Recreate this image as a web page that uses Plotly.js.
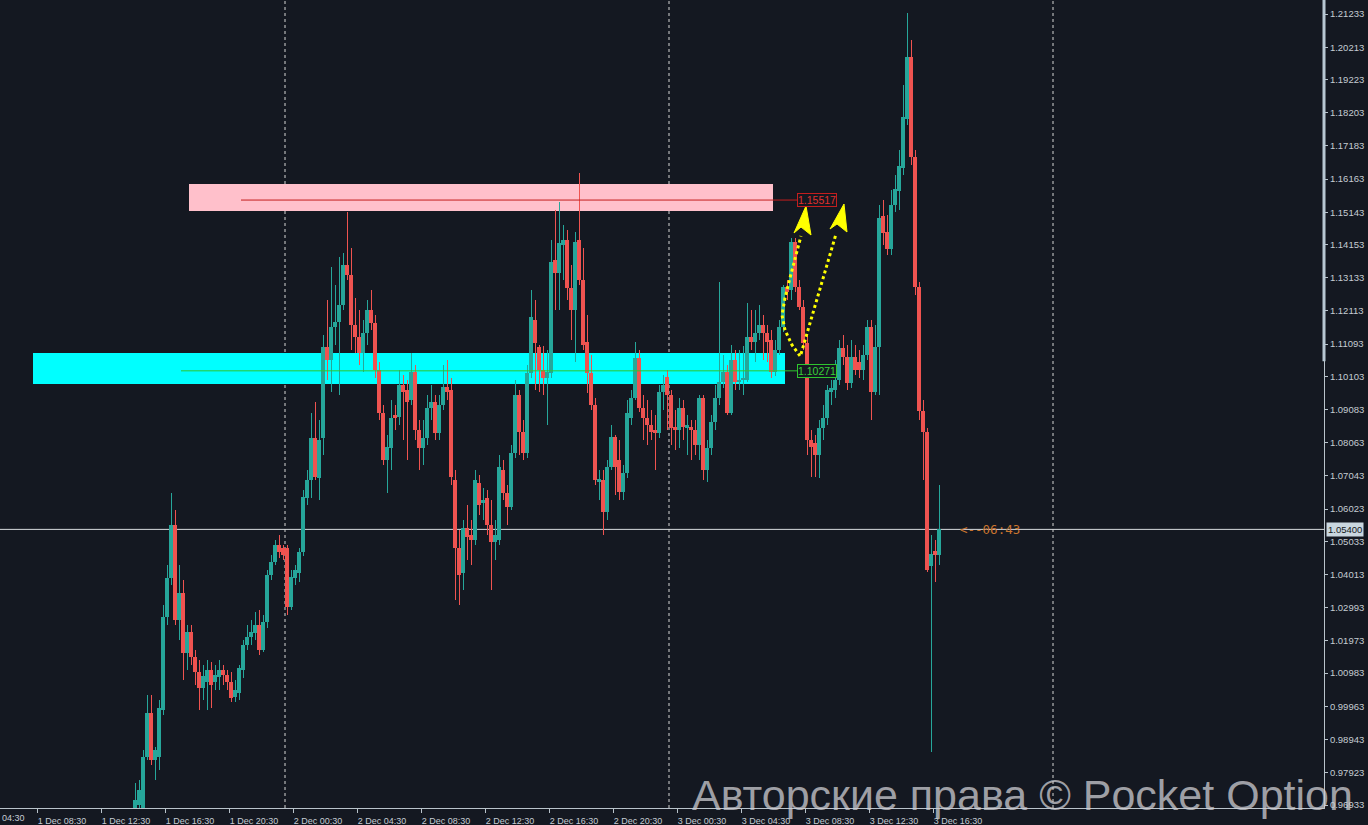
<!DOCTYPE html>
<html>
<head>
<meta charset="utf-8">
<script src="https://cdn.plot.ly/plotly-3.0.1.min.js"></script>
<style>
html,body{margin:0;padding:0;background:#141821;}
#chart{width:1368px;height:825px;}
</style>
</head>
<body>
<div id="chart"></div>
<script>
// ---- data (15-minute candles, 1 Dec 14:30 -> 3 Dec 17:00) ----
const firstBarHour = 14.5;      // hours since 1 Dec 00:00
const barHours = 0.25;          // 15 minutes

const open = [
0.9672,0.9693,0.9684,0.9841,0.9976,0.9832,0.9841,0.9985,1.0271,1.0391,
1.0554,1.0262,1.0345,1.0160,1.0225,1.0148,1.0102,1.0053,1.0071,1.0108,
1.0071,1.0087,1.0108,1.0093,1.0071,1.0025,1.0037,1.0108,1.0185,1.0209,
1.0222,1.0246,1.0170,1.0256,1.0400,1.0440,1.0492,1.0483,1.0483,1.0302,
1.0391,1.0406,1.0471,1.0636,1.0692,1.0821,1.0698,1.0821,1.1100,1.1060,
1.1162,1.1177,1.1229,1.1352,1.1322,1.1168,1.1131,1.1082,1.1143,1.1214,
1.1174,1.1030,1.0898,1.0753,1.0790,1.0891,1.0885,1.0984,1.0968,1.0938,
1.1024,1.0845,1.0790,1.0821,1.0913,1.0931,1.0836,1.0922,1.0977,1.0968,
1.0692,1.0483,1.0406,1.0544,1.0523,1.0507,1.0683,1.0621,1.0636,1.0554,
1.0501,1.0507,1.0722,1.0652,1.0609,1.0775,1.0953,1.0839,1.0775,1.1020,
1.1183,1.1100,1.1030,1.1005,1.1020,1.1368,1.1328,1.1414,1.1429,1.1282,
1.1214,1.1429,1.1306,1.1116,1.1020,1.0922,1.0686,1.0692,1.0593,1.0732,
1.0824,1.0753,1.0655,1.0713,1.0882,1.0944,1.1067,1.0913,1.0882,1.0861,
1.0845,1.0836,1.0962,1.1008,1.0953,1.0855,1.0845,1.0913,1.0852,1.0855,
1.0845,1.0799,1.0944,1.0722,1.0790,1.0870,1.0944,1.0993,1.1024,1.0898,
1.1060,1.0993,1.0999,1.0999,1.1131,1.1116,1.1143,1.1168,1.1143,1.1122,
1.1024,1.1091,1.1162,1.1285,1.1275,1.1423,1.1285,1.1223,1.1113,1.0815,
1.0805,1.0769,1.0852,1.0882,1.0962,1.0968,1.0999,1.1097,1.1070,1.0990,
1.1070,1.1054,1.1030,1.1076,1.1162,1.0962,1.1100,1.1503,1.1454,1.1401,
1.1537,1.1580,1.1650,1.1801,1.1991,1.1684,1.1285,1.0904,1.0839,1.0428,
1.0474,1.0461];

const high = [
0.9761,0.9770,0.9862,1.0031,1.0031,0.9872,1.0016,1.0308,1.0431,1.0652,
1.0600,1.0431,1.0385,1.0246,1.0246,1.0170,1.0139,1.0123,1.0139,1.0133,
1.0123,1.0139,1.0123,1.0108,1.0102,1.0077,1.0123,1.0200,1.0246,1.0262,
1.0286,1.0292,1.0277,1.0415,1.0461,1.0507,1.0523,1.0492,1.0492,1.0415,
1.0431,1.0483,1.0661,1.0722,1.0898,1.0931,1.0876,1.1137,1.1245,1.1346,
1.1291,1.1377,1.1389,1.1515,1.1404,1.1251,1.1214,1.1183,1.1245,1.1275,
1.1199,1.1054,1.0922,1.0830,1.0938,1.0922,1.1030,1.1014,1.0999,1.1082,
1.1045,1.0876,1.0876,1.0953,1.0984,1.0953,1.0953,1.1045,1.1060,1.1005,
1.0722,1.0538,1.0569,1.0615,1.0569,1.0722,1.0707,1.0667,1.0661,1.0630,
1.0569,1.0769,1.0753,1.0676,1.0799,1.0999,1.0968,1.0876,1.1045,1.1275,
1.1245,1.1107,1.1103,1.1091,1.1429,1.1521,1.1546,1.1475,1.1460,1.1352,
1.1454,1.1635,1.1404,1.1199,1.1076,1.0944,1.0722,1.0722,1.0753,1.0861,
1.0830,1.0815,1.0738,1.0938,1.0968,1.1116,1.1091,1.0953,1.0938,1.0907,
1.0891,1.0984,1.1014,1.1030,1.0968,1.0907,1.0944,1.0938,1.0891,1.0876,
1.0876,1.0953,1.0953,1.0815,1.0891,1.0984,1.1300,1.1076,1.1045,1.1107,
1.1091,1.1091,1.1103,1.1236,1.1214,1.1214,1.1229,1.1199,1.1168,1.1153,
1.1122,1.1183,1.1291,1.1306,1.1435,1.1435,1.1306,1.1245,1.1137,1.0845,
1.0830,1.0876,1.0922,1.0984,1.0999,1.1060,1.1122,1.1137,1.1107,1.1122,
1.1107,1.1091,1.1107,1.1183,1.1183,1.1168,1.1537,1.1552,1.1506,1.1583,
1.1629,1.1706,1.1905,1.2126,1.2043,1.1706,1.1300,1.0938,1.0852,1.0523,
1.0507,1.0676];

const low = [
0.9653,0.9672,0.9672,0.9832,0.9816,0.9770,0.9801,0.9970,1.0246,1.0369,
1.0246,1.0200,1.0077,1.0108,1.0123,1.0062,0.9985,1.0016,0.9985,0.9991,
1.0047,1.0047,1.0062,1.0047,1.0010,1.0010,1.0016,1.0084,1.0170,1.0185,
1.0200,1.0154,1.0163,1.0237,1.0385,1.0431,1.0452,1.0446,1.0277,1.0292,
1.0369,1.0378,1.0458,1.0615,1.0636,1.0692,1.0630,1.0769,1.0999,1.0962,
1.1107,1.0953,1.1214,1.1306,1.1091,1.1082,1.1045,1.1024,1.1107,1.1153,
1.1005,1.0876,1.0738,1.0652,1.0722,1.0845,1.0861,1.0815,1.0753,1.0922,
1.0815,1.0722,1.0738,1.0799,1.0876,1.0815,1.0815,1.0907,1.0938,1.0676,
1.0323,1.0308,1.0354,1.0446,1.0431,1.0492,1.0584,1.0569,1.0523,1.0354,
1.0446,1.0492,1.0630,1.0554,1.0600,1.0759,1.0769,1.0753,1.0759,1.1005,
1.0968,1.0962,1.0953,1.0861,1.1005,1.1214,1.1214,1.1306,1.1245,1.1122,
1.1054,1.1291,1.1091,1.0959,1.0907,1.0676,1.0630,1.0523,1.0569,1.0722,
1.0646,1.0630,1.0630,1.0698,1.0861,1.0938,1.0901,1.0815,1.0799,1.0815,
1.0722,1.0821,1.0907,1.0845,1.0799,1.0784,1.0790,1.0815,1.0769,1.0753,
1.0769,1.0753,1.0692,1.0686,1.0769,1.0845,1.0922,1.0974,1.0891,1.0891,
1.0968,1.0968,1.0953,1.0993,1.1091,1.1054,1.1122,1.1060,1.1054,1.1005,
1.1011,1.1076,1.1146,1.1245,1.1245,1.1269,1.1214,1.1091,1.0769,1.0701,
1.0701,1.0698,1.0815,1.0861,1.0922,1.0944,1.0984,1.1045,1.0968,1.0974,
1.1014,1.1005,1.0999,1.1060,1.0876,1.0953,1.0953,1.1414,1.1383,1.1383,
1.1515,1.1521,1.1629,1.1782,1.1659,1.1260,1.0876,1.0692,1.0409,0.9856,
1.0378,1.0431];

const close = [
0.9709,0.9739,0.9841,0.9976,0.9832,0.9862,0.9991,1.0271,1.0391,1.0554,
1.0262,1.0345,1.0160,1.0225,1.0148,1.0102,1.0053,1.0090,1.0108,1.0062,
1.0093,1.0108,1.0093,1.0071,1.0022,1.0047,1.0114,1.0185,1.0209,1.0225,
1.0246,1.0170,1.0256,1.0400,1.0440,1.0492,1.0471,1.0461,1.0302,1.0394,
1.0415,1.0471,1.0640,1.0692,1.0821,1.0701,1.0815,1.1100,1.1060,1.1162,
1.1177,1.1229,1.1352,1.1322,1.1168,1.1131,1.1082,1.1143,1.1214,1.1174,
1.1030,1.0898,1.0753,1.0793,1.0882,1.0882,1.0984,1.0962,1.0931,1.1024,
1.0845,1.0790,1.0821,1.0913,1.0931,1.0836,1.0922,1.0977,1.0962,1.0701,
1.0483,1.0400,1.0544,1.0517,1.0507,1.0692,1.0615,1.0630,1.0554,1.0501,
1.0523,1.0732,1.0652,1.0609,1.0775,1.0953,1.0839,1.0775,1.1020,1.1193,
1.1113,1.1030,1.1005,1.1024,1.1361,1.1328,1.1420,1.1429,1.1282,1.1214,
1.1423,1.1306,1.1107,1.1020,1.0922,1.0692,1.0695,1.0593,1.0732,1.0824,
1.0732,1.0655,1.0713,1.0898,1.0944,1.1067,1.0913,1.0882,1.0861,1.0839,
1.0836,1.0962,1.0984,1.0953,1.0852,1.0845,1.0913,1.0855,1.0861,1.0845,
1.0799,1.0944,1.0722,1.0790,1.0870,1.0944,1.0993,1.1024,1.0898,1.1060,
1.0993,1.0999,1.1005,1.1131,1.1116,1.1143,1.1168,1.1143,1.1116,1.1024,
1.1091,1.1162,1.1285,1.1269,1.1423,1.1285,1.1223,1.1113,1.0815,1.0793,
1.0769,1.0852,1.0882,1.0968,1.0974,1.0999,1.1097,1.1070,1.0990,1.1070,
1.1030,1.1030,1.1076,1.1162,1.0962,1.1100,1.1497,1.1451,1.1401,1.1537,
1.1586,1.1656,1.1807,1.1991,1.1684,1.1285,1.0904,1.0839,1.0415,1.0464,
1.0461,1.0540];

// axis ticks
const priceTicks = [1.21233,1.20213,1.19223,1.18203,1.17183,1.16163,1.15143,1.14153,1.13133,
  1.12113,1.11093,1.10103,1.09083,1.08063,1.07043,1.06023,1.05033,1.04013,1.02993,1.01973,
  1.00983,0.99963,0.98943,0.97923,0.96933];
const timeTickHours = [8.5,12.5,16.5,20.5,24.5,28.5,32.5,36.5,40.5,44.5,48.5,52.5,56.5,60.5,64.5];
const timeTickLabels = ['1 Dec 08:30','1 Dec 12:30','1 Dec 16:30','1 Dec 20:30','2 Dec 00:30',
  '2 Dec 04:30','2 Dec 08:30','2 Dec 12:30','2 Dec 16:30','2 Dec 20:30','3 Dec 00:30',
  '3 Dec 04:30','3 Dec 08:30','3 Dec 12:30','3 Dec 16:30'];
const cutTickLabel = '1 Dec 04:30';
const daySeparators = [24, 48, 72];

// levels / zones
const resistanceLevel = 1.15517;
const supportLevel = 1.10271;
const bidPrice = 1.05400;
const resistanceZone = [1.15181, 1.16011];
const supportZone = [1.09867, 1.10819];

// ---- build traces ----
const UP = '#26a69a', DOWN = '#ef5350';
const xc = open.map((_, i) => firstBarHour + i * barHours + barHours / 2);
const cols = open.map((o, i) => close[i] >= o ? UP : DOWN);
const bodyBase = open.map((o, i) => Math.min(o, close[i]));
const bodyH = open.map((o, i) => Math.max(Math.abs(close[i] - o), 0.00025));
const wickH = high.map((h, i) => h - low[i]);

const wicks = {type:'bar', x:xc, y:wickH, base:low, width:1/16, offset:0,
  marker:{color:cols, line:{width:0}}, hoverinfo:'skip'};
const bodies = {type:'bar', x:xc, y:bodyH, base:bodyBase, width:0.25, offset:-0.125,
  marker:{color:cols, line:{width:0}}, hoverinfo:'skip'};

const tickFont = {family:'Liberation Sans, Arial, sans-serif', size:9, color:'#c5ccd3'};
const yTickFont = {family:'Liberation Sans, Arial, sans-serif', size:9.5, color:'#c5ccd3'};
const AX = '#b9c3cb';

const shapes = [
  {type:'rect', xref:'x', yref:'y', x0:8.25, x1:55.25, y0:supportZone[0], y1:supportZone[1],
   fillcolor:'#00ffff', line:{width:0}, layer:'below'},
  {type:'rect', xref:'x', yref:'y', x0:18.0, x1:54.5, y0:resistanceZone[0], y1:resistanceZone[1],
   fillcolor:'#ffc0cb', line:{width:0}, layer:'below'},
  {type:'line', xref:'paper', yref:'y', x0:0, x1:1, y0:bidPrice, y1:bidPrice,
   line:{color:'#d8dbde', width:1}, layer:'below'},
  {type:'line', xref:'x', yref:'y', x0:21.25, x1:56.0, y0:resistanceLevel, y1:resistanceLevel,
   line:{color:'#c41e1e', width:1}, layer:'above'},
  {type:'line', xref:'x', yref:'y', x0:17.5, x1:56.0, y0:supportLevel, y1:supportLevel,
   line:{color:'#2fc42f', width:1}, layer:'above'},
  // yellow dotted arrows
  {type:'path', xref:'x', yref:'y',
   path:'M56.1875,1.10727 L55.6875,1.11065 L55.25,1.11525 L55.0625,1.11986 L55.25,1.12508 L55.5625,1.13123 L55.9375,1.13829 L56.25,1.14413',
   line:{color:'#ffff00', width:3, dash:'dot'}, layer:'above'},
  {type:'path', xref:'x', yref:'y',
   path:'M56.5625,1.15335 L55.8125,1.14505 L56.25,1.14689 L56.875,1.14444 Z',
   fillcolor:'#ffff00', line:{color:'#ffff00', width:1}, layer:'above'},
  {type:'path', xref:'x', yref:'y',
   path:'M56.25,1.10788 L58.4375,1.14475',
   line:{color:'#ffff00', width:3, dash:'dot'}, layer:'above'},
  {type:'path', xref:'x', yref:'y',
   path:'M58.9375,1.15396 L58.0625,1.14628 L58.5,1.14782 L59.125,1.14536 Z',
   fillcolor:'#ffff00', line:{color:'#ffff00', width:1}, layer:'above'},
  // right scale highlight
  {type:'line', xref:'paper', yref:'paper', x0:1, x1:1, y0:0.553, y1:1,
   line:{color:'#b7c7d3', width:3}, layer:'above'}
];
daySeparators.forEach(h => shapes.push({type:'line', xref:'x', yref:'paper', x0:h, x1:h, y0:0, y1:1,
  line:{color:'#d5d5d5', width:1, dash:'3px,3px'}, layer:'below'}));

const annotations = [
  {xref:'x', yref:'y', x:57.25, y:resistanceLevel, text:resistanceLevel.toFixed(5), showarrow:false,
   font:{family:'Liberation Sans, Arial', size:10.5, color:'#e0302d'}, bordercolor:'#c41e1e', borderwidth:1,
   borderpad:0, bgcolor:'#141821'},
  {xref:'x', yref:'y', x:57.25, y:supportLevel, text:supportLevel.toFixed(5), showarrow:false,
   font:{family:'Liberation Sans, Arial', size:10.5, color:'#39d139'}, bordercolor:'#2fc42f', borderwidth:1,
   borderpad:0, bgcolor:'#141821'},
  {xref:'paper', yref:'y', x:1, xanchor:'left', xshift:2, y:bidPrice, text:bidPrice.toFixed(5), showarrow:false,
   font:{family:'Liberation Sans, Arial', size:9.5, color:'#141821'}, bgcolor:'#c9d6df', borderpad:1},
  {xref:'x', yref:'y', x:66.0625, xanchor:'left', y:bidPrice, text:'&lt;--06:43', showarrow:false,
   font:{family:'DejaVu Sans Mono, monospace', size:12.5, color:'#c8742f'}},
  {xref:'paper', yref:'paper', x:0, xanchor:'left', xshift:-26, y:0, yanchor:'top', yshift:-3,
   text:cutTickLabel, showarrow:false, font:tickFont},
  {xref:'paper', yref:'paper', x:1, xanchor:'right', xshift:31, y:0, yanchor:'middle', yshift:13,
   text:'Авторские права © Pocket Option', showarrow:false,
   font:{family:'Liberation Sans, Arial, sans-serif', size:43, color:'rgba(205,205,210,0.75)'}}
];

const layout = {
  width:1368, height:825,
  margin:{l:0, r:44, t:0, b:17, pad:0},
  paper_bgcolor:'#141821', plot_bgcolor:'#141821',
  showlegend:false, barmode:'overlay', bargap:0,
  xaxis:{range:[6.1875, 88.9375], tickvals:timeTickHours, ticktext:timeTickLabels,
    showgrid:false, zeroline:false, showline:true, linecolor:AX, linewidth:1,
    ticks:'outside', ticklen:4, tickcolor:AX, tickfont:tickFont, ticklabelshift:25, fixedrange:true},
  yaxis:{side:'right', range:[0.96841, 1.21663], tickvals:priceTicks,
    ticktext:priceTicks.map(v => v.toFixed(5)),
    showgrid:false, zeroline:false, showline:true, linecolor:AX, linewidth:1,
    ticks:'outside', ticklen:3, tickcolor:AX, tickfont:yTickFont, fixedrange:true},
  shapes:shapes, annotations:annotations
};

Plotly.newPlot('chart', [wicks, bodies], layout, {displayModeBar:false, staticPlot:true});
</script>
</body>
</html>
